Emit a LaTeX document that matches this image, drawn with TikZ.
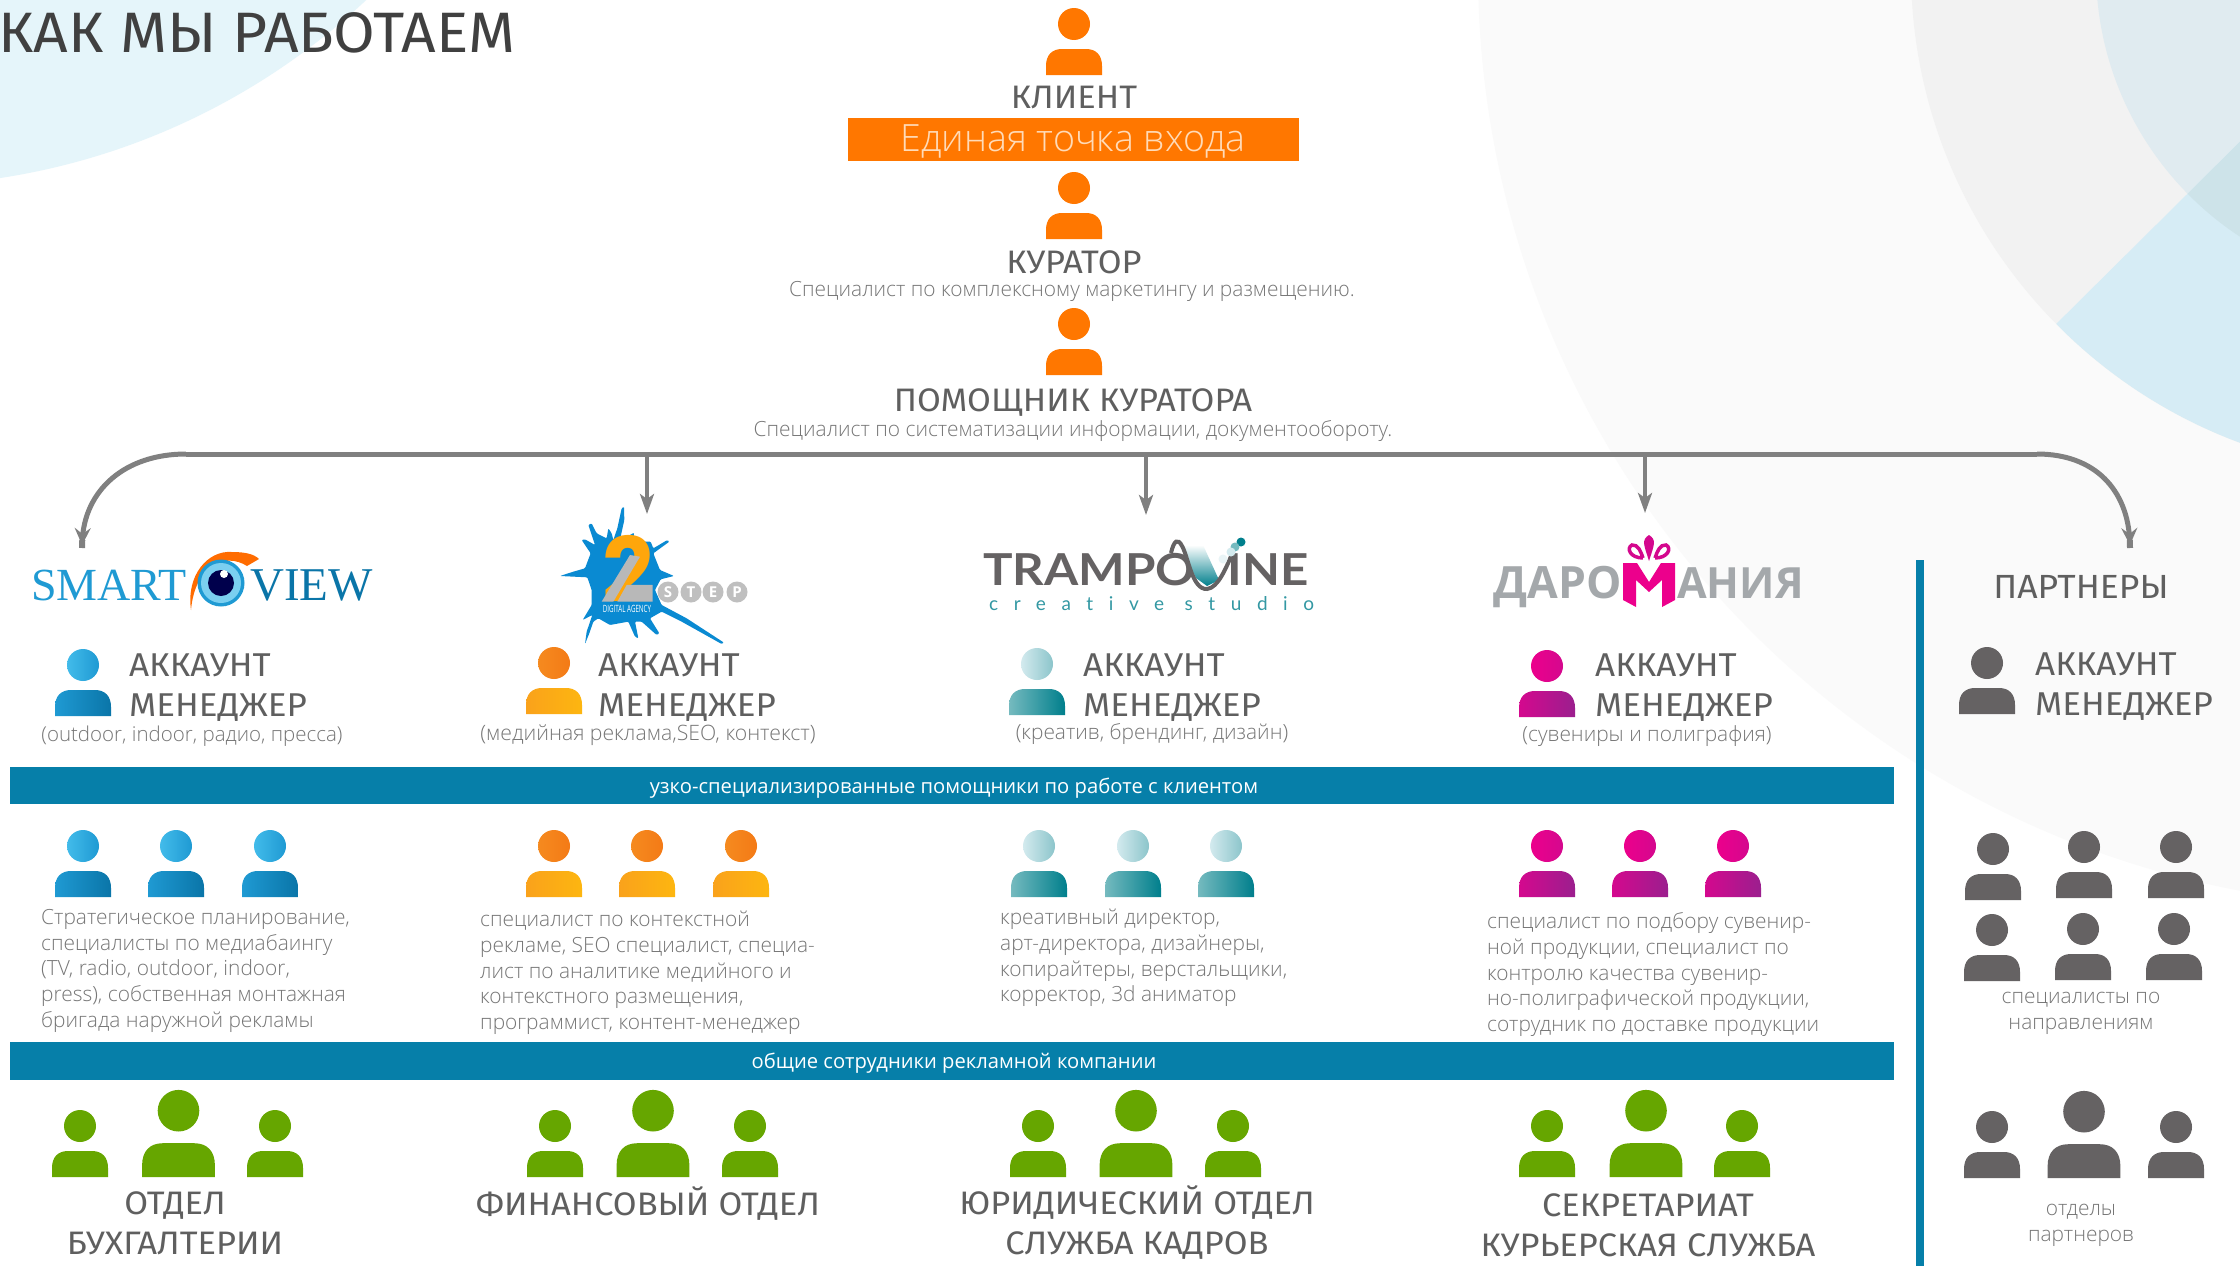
\documentclass[tikz,border=0pt]{standalone}
\usepackage{fontspec}
\setmainfont{Open Sans Light}
\newfontfamily\capsfont[FakeStretch=1.06]{Fira Sans}
\newfontfamily\plainfont{Open Sans}
\newfontfamily\serifmark{Liberation Serif}
\newfontfamily\geomfont{Poppins}
\newfontfamily\widefont[FakeStretch=1.12]{Lato}
\newfontfamily\spacedfont[LetterSpace=82,Ligatures=NoCommon]{Lato}
\usetikzlibrary{arrows.meta}

\definecolor{inkdark}{HTML}{404040}
\definecolor{inkmid}{HTML}{5F5F5F}
\definecolor{inklight}{HTML}{767676}
\definecolor{bandblue}{HTML}{067FA9}
\definecolor{arrowgray}{HTML}{808080}
\definecolor{orangeflat}{HTML}{FF7700}
\definecolor{greenflat}{HTML}{66A600}
\definecolor{grayflat}{HTML}{656263}
\definecolor{silver}{HTML}{A4A8AB}
\definecolor{splash}{HTML}{0A8AD2}
\definecolor{bgpale}{HTML}{E5F5FA}
\definecolor{bgfar}{HTML}{FAFAFA}
\definecolor{bgmid}{HTML}{F2F2F2}
\definecolor{bgnear}{HTML}{E0EBF0}
\definecolor{bgsky}{HTML}{D6ECF5}
\definecolor{bgdeep}{HTML}{CDE3E9}
\definecolor{blueA}{HTML}{42BBEA}
\definecolor{blueB}{HTML}{1F9AD3}
\definecolor{blueC}{HTML}{0A75A8}
\definecolor{amberA}{HTML}{F58A1F}
\definecolor{amberB}{HTML}{F47A16}
\definecolor{amberC}{HTML}{FAA21B}
\definecolor{amberD}{HTML}{FDB610}
\definecolor{tealA}{HTML}{D3EAEE}
\definecolor{tealB}{HTML}{8CC5CB}
\definecolor{tealC}{HTML}{75BABF}
\definecolor{tealD}{HTML}{007F8C}
\definecolor{pinkA}{HTML}{EC008C}
\definecolor{pinkB}{HTML}{D4088E}
\definecolor{pinkC}{HTML}{9B1F8E}

\newcommand{\fsz}[2]{\fontsize{#1}{#2}\selectfont}

\tikzstyle{trunkline}=[draw=arrowgray, line width=5pt]
\tikzstyle{bendline}=[draw=arrowgray, line width=5pt, -{Stealth[length=17pt,width=16pt,inset=6pt,sep=-5pt]Rectangle[length=8pt,width=6pt]}]
\tikzstyle{dropline}=[draw=arrowgray, line width=3.5pt, -{Stealth[length=20pt,width=14pt,inset=5pt]}]
\tikzstyle{bigname}=[inner sep=0pt, text=inkmid, font=\capsfont\fsz{32.5}{40}, align=center]
\tikzstyle{roletext}=[inner sep=0pt, anchor=west, text=inkmid, font=\capsfont\fsz{33}{40}, align=left]
\tikzstyle{subnote}=[inner sep=0pt, text=inklight, font=\fsz{20.9}{25.7}, align=center]
\tikzstyle{duties}=[inner sep=0pt, anchor=north west, text=inklight, font=\fsz{20.9}{25.7}, align=left]
\tikzstyle{bandtext}=[inner sep=0pt, text=white, font=\plainfont\fsz{20.2}{24}]
\tikzstyle{stepletter}=[inner sep=0pt, text=white, font=\plainfont\bfseries\fsz{15}{15}]

\tikzset{
  headorange/.style={fill=orangeflat},
  bodyorange/.style={fill=orangeflat},
  headgreen/.style={fill=greenflat},
  bodygreen/.style={fill=greenflat},
  headgray/.style={fill=grayflat},
  bodygray/.style={fill=grayflat},
  headblue/.style={left color=blueA, right color=blueB},
  bodyblue/.style={left color=blueB, right color=blueC},
  headamber/.style={left color=amberA, right color=amberB},
  bodyamber/.style={left color=amberC, right color=amberD},
  headteal/.style={left color=tealA, right color=tealB},
  bodyteal/.style={left color=tealC, right color=tealD},
  headpink/.style={left color=pinkA, right color=pinkB},
  bodypink/.style={left color=pinkB, right color=pinkC},
}

% person: x of the middle, y of the feet, then the two fills
\newcommand{\Person}[5][1]{%
  \begin{scope}[shift={(#2,#3)},scale=#1]
    \path[#4] (0,-51) circle (16);
    \path[#5] (-28,0) -- (-28,-9) .. controls (-28,-20) and (-22,-26) .. (-12,-26)
      -- (12,-26) .. controls (22,-26) and (28,-20) .. (28,-9) -- (28,0) -- cycle;
  \end{scope}}

\begin{document}
\begin{tikzpicture}[x=1pt,y=-1pt]
  \useasboundingbox (0,0) rectangle (2240,1266);

  % background
  \begin{scope}
    \clip (0,0) rectangle (2240,1266);
    \fill[color=white] (0,0) rectangle (2240,1266);
    \fill[color=bgpale] (-105,-504) circle (690);
    \fill[color=bgfar] (2415,-30) circle (937);
    \fill[color=bgmid] (2415,-30) circle (504);
    \fill[color=bgnear] (2415,-30) circle (319);
    \clip (1800,578) -- (2400,-17) -- (2400,1000) -- (1800,1000) -- cycle;
    \fill[color=bgsky] (2415,-30) circle (504);
    \fill[color=bgdeep] (2415,-30) circle (319);
  \end{scope}

  \node[inner sep=0pt, anchor=west, text=inkdark, font=\capsfont\fsz{57}{60}] (title) at (-2,33) {КАК МЫ РАБОТАЕМ};

  % top of the chain
  \Person{1074}{75}{headorange}{bodyorange}
  \node[bigname] (klient) at (1074,97.5) {КЛИЕНТ};
  \node[inner sep=0pt, fill=orangeflat, minimum width=451pt, minimum height=43pt] (entry) at (1073.5,139) {};
  \node[inner sep=0pt, text=white!72!orange, font=\fsz{37.6}{40}] (entrytext) at (1073,141.5) {Единая точка входа};
  \Person{1074}{239}{headorange}{bodyorange}
  \node[bigname] (kurator) at (1074,262.5) {КУРАТОР};
  \node[subnote] (kuratornote) at (1072,291) {Специалист по комплексному маркетингу и размещению.};
  \Person{1074}{375}{headorange}{bodyorange}
  \node[bigname] (pomoshnik) at (1073,402.5) {ПОМОЩНИК КУРАТОРА};
  \node[subnote] (pomoshniknote) at (1073,431.5) {Специалист по систематизации информации, документообороту.};

  % connectors
  \coordinate (trunkl) at (186,454);
  \coordinate (trunkr) at (2037,454);
  \coordinate (tipsmart) at (82,548);
  \coordinate (tippart) at (2130,548);
  \coordinate (dropstep) at (647,454);
  \coordinate (droptramp) at (1146,454);
  \coordinate (dropdaro) at (1645,454);
  \coordinate (tipstep) at (647,514);
  \coordinate (tiptramp) at (1146,515);
  \coordinate (tipdaro) at (1645,513);
  \draw[trunkline] (trunkl) -- (trunkr);
  \draw[bendline] (trunkl) .. controls (125,454) and (84,490) .. (tipsmart);
  \draw[bendline] (trunkr) .. controls (2095,454) and (2128,490) .. (tippart);
  \draw[dropline] (dropstep) -- (tipstep);
  \draw[dropline] (droptramp) -- (tiptramp);
  \draw[dropline] (dropdaro) -- (tipdaro);

  % logo smart view
  \node[inner sep=0pt, anchor=base west, text=blueB, font=\serifmark\fsz{46}{46}] (smart) at (31,600) {SMART};
  \node[inner sep=0pt, anchor=base west, text=blueC, font=\serifmark\fsz{47}{47}] (view) at (250,600) {VIEW};
  \fill[color=orange!85!red] (191,610) .. controls (186,575) and (208,550) .. (232,552) .. controls (245,552) and (254,554) .. (259,559)
    -- (247,566) .. controls (225,552) and (195,565) .. (191,610) -- cycle;
  \fill[color=blueB] (221,583) circle (23.5);
  \fill[color=blueA!70!white] (221,583) circle (20);
  \fill[color=black!70!blue] (221,583) circle (13);
  \fill[color=white] (224,574) circle (4);

  % logo 2 step
  \begin{scope}[shift={(530,490)},scale=0.3333]
    \fill[color=splash, rounded corners=1pt] (250,150) -- (262,115) -- (275,55) -- (282,50) -- (283,90) -- (272,140) -- (295,138) -- (312,128)
      -- (312,140) -- (345,155) -- (362,155) -- (370,175) -- (412,150) -- (418,155) -- (370,190) -- (390,240) -- (432,258) -- (392,268)
      -- (375,300) -- (395,345) -- (470,385) -- (582,458) -- (575,462) -- (455,395) -- (395,365) -- (360,385) -- (388,430) -- (380,435)
      -- (335,395) -- (315,395) -- (325,445) -- (315,440) -- (295,395) -- (240,405) -- (205,385) -- (190,395) -- (178,430) -- (165,462)
      -- (170,425) -- (187,375) -- (158,390) -- (185,345) -- (185,300) -- (172,262) -- (90,258) -- (130,245) -- (165,235) -- (182,190)
      -- (155,150) -- (165,148) -- (195,165) -- (175,105) -- (185,100) -- (200,130) -- (230,145) -- (235,115) -- (245,130) -- cycle;
  \end{scope}
  \node[inner sep=0pt, anchor=base, text=amberD!70!orange, font=\geomfont\bfseries\fsz{90}{90}] (twomark) at (628,602) {2};
  \begin{scope}[shift={(530,490)},scale=0.3333]
    \fill[color=black!28] (215,335) -- (300,195) -- (330,200) -- (250,335) -- cycle;
    \fill[color=black!28] (290,285) -- (368,285) -- (368,335) -- (262,335) -- cycle;
  \end{scope}
  \node[inner sep=0pt, text=white, font=\plainfont\fsz{10}{10}] (stepagency) at (627,608.5) {\scalebox{.62}[1]{DIGITAL AGENCY}};
  \fill[color=black!25] (668,592) circle (10.5);
  \fill[color=black!25] (691,592) circle (10.5);
  \fill[color=black!25] (713,592) circle (10.5);
  \fill[color=black!25] (737,592) circle (10.5);
  \node[stepletter] (steps) at (668,592) {S};
  \node[stepletter] (stept) at (691,592) {T};
  \node[stepletter] (stepe) at (713,592) {E};
  \node[stepletter] (stepp) at (737,592) {P};

  % logo trampoline
  \node[inner sep=0pt, anchor=base west, text=grayflat, font=\widefont\bfseries\fsz{44}{44}] (trampo) at (983,585) {TRAMPO};
  \node[inner sep=0pt, anchor=base east, text=grayflat, font=\widefont\bfseries\fsz{44}{44}] (trampne) at (1309,585) {INE};
  \path[top color=white, bottom color=tealD] (1180,545) -- (1203,545) -- (1219,580) -- (1207,586) -- (1196,578) -- cycle;
  \draw[color=grayflat, line width=4pt] (1171,553) .. controls (1174,540) and (1178,538) .. (1182,546) .. controls (1188,556) and (1192,590) .. (1207,589) .. controls (1218,588) and (1226,568) .. (1232,554);
  \fill[color=tealD] (1241,542) circle (4.5);
  \fill[color=tealC] (1235,547) circle (4.5);
  \fill[color=tealA] (1231,552) circle (4.5);
  \fill[color=tealA!50!white] (1223,559) circle (4.5);
  \node[inner sep=0pt, anchor=base west, text=tealD!80!white, font=\spacedfont\fsz{19}{19}] (trampstudio) at (989,610) {creative studio};

  % logo daromania
  \node[inner sep=0pt, anchor=base east, text=silver, font=\plainfont\bfseries\fsz{44.5}{44}] (daro) at (1622,598) {ДАРО};
  \node[inner sep=0pt, anchor=base west, text=silver, font=\plainfont\bfseries\fsz{43}{43}] (mania) at (1677,598) {АНИЯ};
  \fill[color=pinkA] (1623,563) -- (1637,563) -- (1649,582) -- (1661,563) -- (1675,563) -- (1675,600) -- (1662,607) -- (1662,580)
    -- (1649,592) -- (1636,580) -- (1636,607) -- (1623,600) -- cycle;
  \fill[color=pinkB] (1649,561) .. controls (1644,545) and (1641,540) .. (1649,535) .. controls (1657,540) and (1654,545) .. (1649,561) -- cycle;
  \draw[color=pinkB, line width=3.5pt] (1643,558) .. controls (1630,558) and (1626,548) .. (1632,545) .. controls (1638,544) and (1641,552) .. (1643,558);
  \draw[color=pinkB, line width=3.5pt] (1655,558) .. controls (1668,558) and (1672,548) .. (1666,545) .. controls (1660,544) and (1657,552) .. (1655,558);

  % account managers
  \Person{83}{716}{headblue}{bodyblue}
  \node[roletext] (acc1) at (129,665) {АККАУНТ};
  \node[roletext] (man1) at (129,707.5) {МЕНЕДЖЕР};
  \node[subnote, font=\fsz{20.5}{25.7}] (sub1) at (192,736.5) {(outdoor, indoor, радио, пресса)};
  \Person{554}{714}{headamber}{bodyamber}
  \node[roletext] (acc2) at (598,665) {АККАУНТ};
  \node[roletext] (man2) at (598,707.5) {МЕНЕДЖЕР};
  \node[subnote, font=\fsz{21.2}{25.7}] (sub2) at (648,735.5) {(медийная реклама,SEO, контекст)};
  \Person{1037}{715}{headteal}{bodyteal}
  \node[roletext] (acc3) at (1083,665) {АККАУНТ};
  \node[roletext] (man3) at (1083,707.5) {МЕНЕДЖЕР};
  \node[subnote] (sub3) at (1152,734.5) {(креатив, брендинг, дизайн)};
  \Person{1547}{717}{headpink}{bodypink}
  \node[roletext] (acc4) at (1595,665) {АККАУНТ};
  \node[roletext] (man4) at (1595,707.5) {МЕНЕДЖЕР};
  \node[subnote] (sub4) at (1647,736.5) {(сувениры и полиграфия)};
  \node[bigname, font=\capsfont\fsz{33.5}{40}] (partners) at (2081,586.5) {ПАРТНЕРЫ};
  \Person{1987}{714}{headgray}{bodygray}
  \node[roletext] (acc5) at (2035,664) {АККАУНТ};
  \node[roletext] (man5) at (2035,706.5) {МЕНЕДЖЕР};

  % bands
  \node[inner sep=0pt, fill=bandblue, minimum width=1884pt, minimum height=37pt] (bandone) at (952,785.5) {};
  \node[bandtext] (bandonetext) at (954,788.5) {узко-специализированные помощники по работе с клиентом};
  \node[inner sep=0pt, fill=bandblue, minimum width=1884pt, minimum height=38pt] (bandtwo) at (952,1061) {};
  \node[bandtext] (bandtwotext) at (954,1063.5) {общие сотрудники рекламной компании};
  \fill[color=bandblue] (1916,560) rectangle (1924,1266);

  % specialists
  \Person{83}{897}{headblue}{bodyblue}
  \Person{176}{897}{headblue}{bodyblue}
  \Person{270}{897}{headblue}{bodyblue}
  \node[duties] (duty1) at (41,909) {Стратегическое планирование,\\специалисты по медиабаингу\\(TV, radio, outdoor, indoor,\\press), собственная монтажная\\бригада наружной рекламы};
  \Person{554}{897}{headamber}{bodyamber}
  \Person{647}{897}{headamber}{bodyamber}
  \Person{741}{897}{headamber}{bodyamber}
  \node[duties] (duty2) at (480,911) {специалист по контекстной\\рекламе, SEO специалист, специа-\\лист по аналитике медийного и\\контекстного размещения,\\программист, контент-менеджер};
  \Person{1039}{897}{headteal}{bodyteal}
  \Person{1133}{897}{headteal}{bodyteal}
  \Person{1226}{897}{headteal}{bodyteal}
  \node[duties] (duty3) at (1000,909) {креативный директор,\\арт-директора, дизайнеры,\\копирайтеры, верстальщики,\\корректор, 3d аниматор};
  \Person{1547}{897}{headpink}{bodypink}
  \Person{1640}{897}{headpink}{bodypink}
  \Person{1733}{897}{headpink}{bodypink}
  \node[duties] (duty4) at (1487,912.5) {специалист по подбору сувенир-\\ной продукции, специалист по\\контролю качества сувенир-\\но-полиграфической продукции,\\сотрудник по доставке продукции};
  \Person{1993}{900}{headgray}{bodygray}
  \Person{2084}{898}{headgray}{bodygray}
  \Person{2176}{898}{headgray}{bodygray}
  \Person{1992}{981}{headgray}{bodygray}
  \Person{2083}{980}{headgray}{bodygray}
  \Person{2174}{980}{headgray}{bodygray}
  \node[subnote] (duty5) at (2081,1013) {специалисты по\\направлениям};

  % departments
  \Person{80}{1177}{headgreen}{bodygreen}
  \Person[1.3]{178.5}{1177}{headgreen}{bodygreen}
  \Person{275}{1177}{headgreen}{bodygreen}
  \node[bigname] (dept1) at (175,1223) {ОТДЕЛ\\БУХГАЛТЕРИИ};
  \Person{555}{1177}{headgreen}{bodygreen}
  \Person[1.3]{653}{1177}{headgreen}{bodygreen}
  \Person{750}{1177}{headgreen}{bodygreen}
  \node[bigname] (dept2) at (648,1203) {ФИНАНСОВЫЙ ОТДЕЛ};
  \Person{1038}{1177}{headgreen}{bodygreen}
  \Person[1.3]{1136}{1177}{headgreen}{bodygreen}
  \Person{1233}{1177}{headgreen}{bodygreen}
  \node[bigname] (dept3) at (1137,1222) {ЮРИДИЧЕСКИЙ ОТДЕЛ\\СЛУЖБА КАДРОВ};
  \Person{1547}{1177}{headgreen}{bodygreen}
  \Person[1.3]{1646}{1177}{headgreen}{bodygreen}
  \Person{1742}{1177}{headgreen}{bodygreen}
  \node[bigname] (dept4) at (1648,1225) {СЕКРЕТАРИАТ\\КУРЬЕРСКАЯ СЛУЖБА};
  \Person{1992}{1178}{headgray}{bodygray}
  \Person[1.3]{2084}{1178}{headgray}{bodygray}
  \Person{2176}{1178}{headgray}{bodygray}
  \node[subnote] (partnerdepts) at (2081,1225.5) {отделы\\партнеров};
\end{tikzpicture}
\end{document}
